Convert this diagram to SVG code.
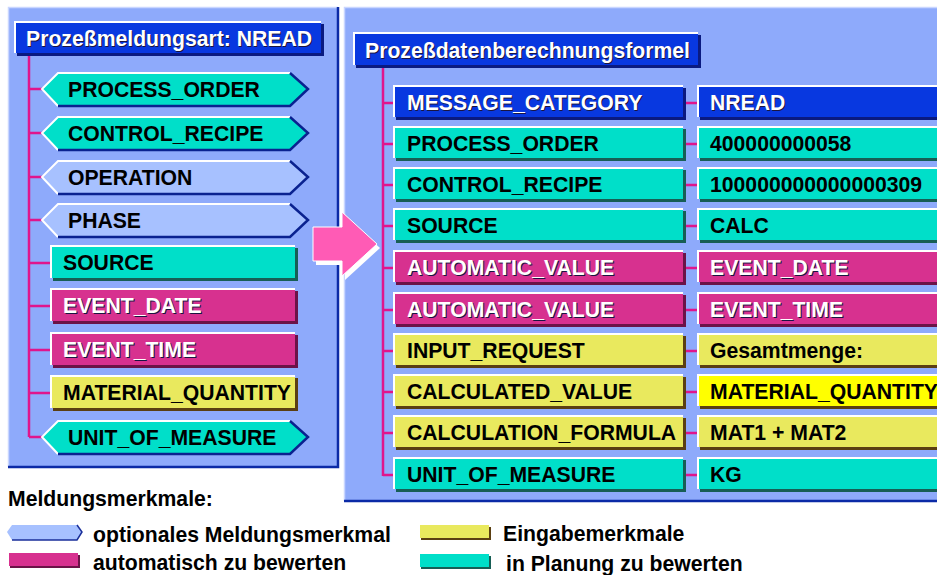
<svg xmlns="http://www.w3.org/2000/svg" xmlns:xlink="http://www.w3.org/1999/xlink" width="937" height="575" viewBox="0 0 937 575">
  <style>
    text { font-family: "Liberation Sans", Arial, sans-serif; font-weight: bold; font-size: 21.2px; fill: #000; }
    .panel { fill: #8eaafb; }
    .edge { fill: none; stroke: #0b2aa6; stroke-width: 2.5; }
    .edge-lt { fill: none; stroke: #c9d6ff; stroke-width: 1.5; }
    .f-blue { fill: #0838e0; } .s-blue { fill: #0a1a80; }
    .f-teal { fill: #00dfc9; } .s-teal { fill: #175e55; }
    .f-mag  { fill: #d7318f; } .s-mag  { fill: #6b1347; }
    .f-yel  { fill: #e9e95e; } .s-yel  { fill: #5b3f12; }
    .f-ylw  { fill: #ffff00; }
    .f-opt  { fill: #a7c1ff; }
    .hl { fill: none; stroke: #ffffff; stroke-width: 2; }
    .hexdk { fill: none; stroke: #0a2290; stroke-width: 2.5; }
    .link { fill: none; stroke: #e0158c; stroke-width: 2.5; }
    text.w { fill: #ffffff; }
    text.tsh { fill: #1a1440; }
  </style>
  <defs>
    <polygon id="hex" points="42,0 58,-16 290,-16 308,0 290,17 58,17"/>
    <path id="hex-hl" class="hl" d="M58,17 L42,0 L58,-16 H290"/>
    <path id="hex-dk" class="hexdk" d="M290,-16 L308,0 L290,17 H58"/>
  </defs>

  <!-- background panels -->
  <rect x="0" y="0" width="937" height="575" fill="#ffffff"/>
  <g id="panel-left">
    <rect class="panel" x="8" y="7" width="330" height="460"/>
    <path class="edge-lt" d="M8.5,467 V7.5 H338"/>
    <path class="edge" d="M338,7 V467 H8"/>
  </g>
  <g id="panel-right">
    <rect class="panel" x="344" y="7" width="600" height="494"/>
    <path class="edge-lt" d="M344.5,501 V7.5 H937"/>
    <path class="edge" d="M344,501 H937"/>
  </g>

  <!-- connectors -->
  <g id="connectors">
    <path class="link" d="M29,55 V437"/>
    <path class="link" d="M29,89 H44 M29,133 H44 M29,177 H44 M29,220 H44 M29,437 H44"/>
    <path class="link" d="M29,263 H51 M29,306 H51 M29,350 H51 M29,393 H51"/>
    <path class="link" d="M383,68 V476"/>
    <path class="link" d="M383,103 H394 M383,144 H394 M383,185 H394 M383,226 H394 M383,268 H394 M383,310 H394 M383,351 H394 M383,392 H394 M383,433 H394 M383,475 H394"/>
    <path class="link" d="M685,103 H698 M685,144 H698 M685,185 H698 M685,226 H698 M685,268 H698 M685,310 H698 M685,351 H698 M685,392 H698 M685,433 H698 M685,475 H698"/>
  </g>

  <!-- left panel: message type and its characteristics -->
  <g id="title-left">
    <rect class="s-blue" x="17" y="24" width="307" height="32"/>
    <rect class="f-blue" x="14" y="21" width="307" height="32"/>
    <path class="hl" d="M15,53 V22 H321"/>
    <text class="tsh" x="27" y="47">Prozeßmeldungsart: NREAD</text>
    <text class="w" x="26" y="46">Prozeßmeldungsart: NREAD</text>
  </g>

  <g id="l-process-order" transform="translate(0,89)">
    <use xlink:href="#hex" class="f-teal"/><use xlink:href="#hex-hl"/><use xlink:href="#hex-dk"/>
    <text x="68" y="8">PROCESS_ORDER</text>
  </g>
  <g id="l-control-recipe" transform="translate(0,133)">
    <use xlink:href="#hex" class="f-teal"/><use xlink:href="#hex-hl"/><use xlink:href="#hex-dk"/>
    <text x="68" y="8">CONTROL_RECIPE</text>
  </g>
  <g id="l-operation" transform="translate(0,177)">
    <use xlink:href="#hex" class="f-opt"/><use xlink:href="#hex-hl"/><use xlink:href="#hex-dk"/>
    <text x="68" y="8">OPERATION</text>
  </g>
  <g id="l-phase" transform="translate(0,220)">
    <use xlink:href="#hex" class="f-opt"/><use xlink:href="#hex-hl"/><use xlink:href="#hex-dk"/>
    <text x="68" y="8">PHASE</text>
  </g>
  <g id="l-source" transform="translate(0,263)">
    <rect class="s-teal" x="53" y="-15" width="245" height="33"/>
    <rect class="f-teal" x="50" y="-18" width="245" height="33"/>
    <path class="hl" d="M51,15 V-17 H295"/>
    <text x="63" y="7">SOURCE</text>
  </g>
  <g id="l-event-date" transform="translate(0,306)">
    <rect class="s-mag" x="53" y="-15" width="245" height="33"/>
    <rect class="f-mag" x="50" y="-18" width="245" height="33"/>
    <path class="hl" d="M51,15 V-17 H295"/>
    <text class="tsh" x="64" y="8">EVENT_DATE</text>
    <text class="w" x="63" y="7">EVENT_DATE</text>
  </g>
  <g id="l-event-time" transform="translate(0,350)">
    <rect class="s-mag" x="53" y="-15" width="245" height="33"/>
    <rect class="f-mag" x="50" y="-18" width="245" height="33"/>
    <path class="hl" d="M51,15 V-17 H295"/>
    <text class="tsh" x="64" y="8">EVENT_TIME</text>
    <text class="w" x="63" y="7">EVENT_TIME</text>
  </g>
  <g id="l-material-quantity" transform="translate(0,393)">
    <rect class="s-yel" x="53" y="-15" width="245" height="33"/>
    <rect class="f-yel" x="50" y="-18" width="245" height="33"/>
    <path class="hl" d="M51,15 V-17 H295"/>
    <text x="63" y="7">MATERIAL_QUANTITY</text>
  </g>
  <g id="l-unit-of-measure" transform="translate(0,437)">
    <use xlink:href="#hex" class="f-teal"/><use xlink:href="#hex-hl"/><use xlink:href="#hex-dk"/>
    <text x="68" y="8">UNIT_OF_MEASURE</text>
  </g>

  <!-- transition arrow -->
  <g id="arrow">
    <path fill="#ffffff" transform="translate(3,4)" d="M313,227 H342 V212 L377,244 L342,276 V261 H313 Z"/>
    <path fill="#ff5bb5" stroke="#ffffff" stroke-width="1" d="M313,227 H342 V212 L377,244 L342,276 V261 H313 Z"/>
  </g>

  <!-- right panel: calculation formula -->
  <g id="title-right">
    <rect class="s-blue" x="356" y="35" width="345" height="33"/>
    <rect class="f-blue" x="353" y="32" width="345" height="33"/>
    <path class="hl" d="M354,65 V33 H698"/>
    <text class="tsh" x="366" y="59">Prozeßdatenberechnungsformel</text>
    <text class="w" x="365" y="58">Prozeßdatenberechnungsformel</text>
  </g>

  <g id="r-message-category" transform="translate(0,103)">
    <rect class="s-blue" x="396" y="-15" width="290" height="32"/>
    <rect class="f-blue" x="393" y="-18" width="290" height="32"/>
    <path class="hl" d="M394,14 V-17 H683"/>
    <text class="tsh" x="408" y="8">MESSAGE_CATEGORY</text>
    <text class="w" x="407" y="7">MESSAGE_CATEGORY</text>
  </g>
  <g id="v-message-category" transform="translate(0,103)">
    <rect class="s-blue" x="700" y="-15" width="300" height="32"/>
    <rect class="f-blue" x="697" y="-18" width="300" height="32"/>
    <path class="hl" d="M698,14 V-17 H937"/>
    <text class="tsh" x="711" y="8">NREAD</text>
    <text class="w" x="710" y="7">NREAD</text>
  </g>

  <g id="r-process-order" transform="translate(0,144)">
    <rect class="s-teal" x="396" y="-15" width="290" height="32"/>
    <rect class="f-teal" x="393" y="-18" width="290" height="32"/>
    <path class="hl" d="M394,14 V-17 H683"/>
    <text x="407" y="7">PROCESS_ORDER</text>
  </g>
  <g id="v-process-order" transform="translate(0,144)">
    <rect class="s-teal" x="700" y="-15" width="300" height="32"/>
    <rect class="f-teal" x="697" y="-18" width="300" height="32"/>
    <path class="hl" d="M698,14 V-17 H937"/>
    <text x="710" y="7">400000000058</text>
  </g>

  <g id="r-control-recipe" transform="translate(0,185)">
    <rect class="s-teal" x="396" y="-15" width="290" height="32"/>
    <rect class="f-teal" x="393" y="-18" width="290" height="32"/>
    <path class="hl" d="M394,14 V-17 H683"/>
    <text x="407" y="7">CONTROL_RECIPE</text>
  </g>
  <g id="v-control-recipe" transform="translate(0,185)">
    <rect class="s-teal" x="700" y="-15" width="300" height="32"/>
    <rect class="f-teal" x="697" y="-18" width="300" height="32"/>
    <path class="hl" d="M698,14 V-17 H937"/>
    <text x="710" y="7">100000000000000309</text>
  </g>

  <g id="r-source" transform="translate(0,226)">
    <rect class="s-teal" x="396" y="-15" width="290" height="32"/>
    <rect class="f-teal" x="393" y="-18" width="290" height="32"/>
    <path class="hl" d="M394,14 V-17 H683"/>
    <text x="407" y="7">SOURCE</text>
  </g>
  <g id="v-source" transform="translate(0,226)">
    <rect class="s-teal" x="700" y="-15" width="300" height="32"/>
    <rect class="f-teal" x="697" y="-18" width="300" height="32"/>
    <path class="hl" d="M698,14 V-17 H937"/>
    <text x="710" y="7">CALC</text>
  </g>

  <g id="r-automatic-value-1" transform="translate(0,268)">
    <rect class="s-mag" x="396" y="-15" width="290" height="32"/>
    <rect class="f-mag" x="393" y="-18" width="290" height="32"/>
    <path class="hl" d="M394,14 V-17 H683"/>
    <text class="tsh" x="408" y="8">AUTOMATIC_VALUE</text>
    <text class="w" x="407" y="7">AUTOMATIC_VALUE</text>
  </g>
  <g id="v-event-date" transform="translate(0,268)">
    <rect class="s-mag" x="700" y="-15" width="300" height="32"/>
    <rect class="f-mag" x="697" y="-18" width="300" height="32"/>
    <path class="hl" d="M698,14 V-17 H937"/>
    <text class="tsh" x="711" y="8">EVENT_DATE</text>
    <text class="w" x="710" y="7">EVENT_DATE</text>
  </g>

  <g id="r-automatic-value-2" transform="translate(0,310)">
    <rect class="s-mag" x="396" y="-15" width="290" height="32"/>
    <rect class="f-mag" x="393" y="-18" width="290" height="32"/>
    <path class="hl" d="M394,14 V-17 H683"/>
    <text class="tsh" x="408" y="8">AUTOMATIC_VALUE</text>
    <text class="w" x="407" y="7">AUTOMATIC_VALUE</text>
  </g>
  <g id="v-event-time" transform="translate(0,310)">
    <rect class="s-mag" x="700" y="-15" width="300" height="32"/>
    <rect class="f-mag" x="697" y="-18" width="300" height="32"/>
    <path class="hl" d="M698,14 V-17 H937"/>
    <text class="tsh" x="711" y="8">EVENT_TIME</text>
    <text class="w" x="710" y="7">EVENT_TIME</text>
  </g>

  <g id="r-input-request" transform="translate(0,351)">
    <rect class="s-yel" x="396" y="-15" width="290" height="32"/>
    <rect class="f-yel" x="393" y="-18" width="290" height="32"/>
    <path class="hl" d="M394,14 V-17 H683"/>
    <text x="407" y="7">INPUT_REQUEST</text>
  </g>
  <g id="v-input-request" transform="translate(0,351)">
    <rect class="s-yel" x="700" y="-15" width="300" height="32"/>
    <rect class="f-yel" x="697" y="-18" width="300" height="32"/>
    <path class="hl" d="M698,14 V-17 H937"/>
    <text x="710" y="7">Gesamtmenge:</text>
  </g>

  <g id="r-calculated-value" transform="translate(0,392)">
    <rect class="s-yel" x="396" y="-15" width="290" height="32"/>
    <rect class="f-yel" x="393" y="-18" width="290" height="32"/>
    <path class="hl" d="M394,14 V-17 H683"/>
    <text x="407" y="7">CALCULATED_VALUE</text>
  </g>
  <g id="v-calculated-value" transform="translate(0,392)">
    <rect class="s-yel" x="700" y="-15" width="300" height="32"/>
    <rect class="f-ylw" x="697" y="-18" width="300" height="32"/>
    <path class="hl" d="M698,14 V-17 H937"/>
    <text x="710" y="7">MATERIAL_QUANTITY</text>
  </g>

  <g id="r-calculation-formula" transform="translate(0,433)">
    <rect class="s-yel" x="396" y="-15" width="290" height="32"/>
    <rect class="f-yel" x="393" y="-18" width="290" height="32"/>
    <path class="hl" d="M394,14 V-17 H683"/>
    <text x="407" y="7">CALCULATION_FORMULA</text>
  </g>
  <g id="v-calculation-formula" transform="translate(0,433)">
    <rect class="s-yel" x="700" y="-15" width="300" height="32"/>
    <rect class="f-yel" x="697" y="-18" width="300" height="32"/>
    <path class="hl" d="M698,14 V-17 H937"/>
    <text x="710" y="7">MAT1 + MAT2</text>
  </g>

  <g id="r-unit-of-measure" transform="translate(0,475)">
    <rect class="s-teal" x="396" y="-15" width="290" height="32"/>
    <rect class="f-teal" x="393" y="-18" width="290" height="32"/>
    <path class="hl" d="M394,14 V-17 H683"/>
    <text x="407" y="7">UNIT_OF_MEASURE</text>
  </g>
  <g id="v-unit-of-measure" transform="translate(0,475)">
    <rect class="s-teal" x="700" y="-15" width="300" height="32"/>
    <rect class="f-teal" x="697" y="-18" width="300" height="32"/>
    <path class="hl" d="M698,14 V-17 H937"/>
    <text x="710" y="7">KG</text>
  </g>

  <!-- legend -->
  <g id="legend">
    <text x="8" y="506">Meldungsmerkmale:</text>
    <polygon class="f-opt" points="7,532 12,525 77,525 82,532 77,540 12,540"/>
    <path fill="none" stroke="#1a2f9a" stroke-width="1.5" d="M77,525 L82,532 L77,540 H12"/>
    <text x="93" y="542">optionales Meldungsmerkmal</text>
    <rect class="s-mag" x="10" y="555" width="70" height="13"/>
    <rect class="f-mag" x="9" y="553" width="69" height="13"/>
    <text x="93" y="570">automatisch zu bewerten</text>
    <rect class="s-yel" x="421" y="527" width="70" height="13"/>
    <rect class="f-yel" x="420" y="525" width="69" height="13"/>
    <text x="503" y="541">Eingabemerkmale</text>
    <rect class="s-teal" x="421" y="556" width="70" height="13"/>
    <rect class="f-teal" x="420" y="554" width="69" height="13"/>
    <text x="506" y="571">in Planung zu bewerten</text>
  </g>
</svg>
